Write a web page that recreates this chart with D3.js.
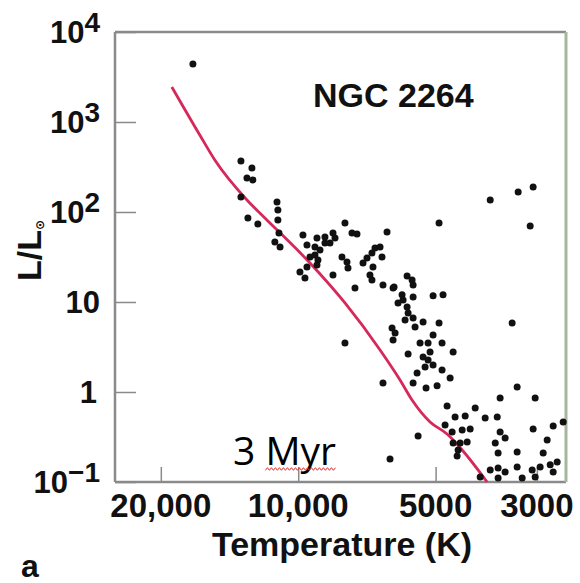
<!DOCTYPE html>
<html>
<head>
<meta charset="utf-8">
<script src="https://cdn.jsdelivr.net/npm/d3@7"></script>
<style>
  body { margin: 0; background: #fff; }
  text { font-family: "Liberation Sans", Arial, Helvetica, sans-serif; font-weight: bold; fill: #111; }
</style>
</head>
<body>
<div id="chart"></div>
<script>
// axis ticks
const tempTicks = [20000, 10000, 5000, 3000];
const tempTickLabels = ["20,000", "10,000", "5000", "3000"];
const lumTicks = [1e4, 1e3, 1e2, 10, 1, 0.1];
const lumTickBase = ["10", "10", "10", "10", "1", "10"];
const lumTickExp = ["4", "3", "2", "", "", "\u22121"];

// stars of NGC 2264 (temperature K, luminosity L/Lsun)
const starTemp = [17010, 13350, 12630, 12950, 12570, 13350, 12890, 12260, 11130, 11080,
  11080, 11020, 11250, 10960, 9764, 9098, 8738, 8391, 8306, 7899,
  7624, 7434, 6389, 9568, 9190, 8960, 8738, 8519, 9424, 9190,
  9052, 9913, 9568, 9665, 9098, 8391, 8019, 7819, 7780, 7510,
  7211, 7068, 6893, 6789, 6618, 6553, 6858, 6963, 6893, 6520,
  6197, 6229, 7899, 6520, 3796, 4914, 3103, 5774, 5630, 5601,
  6166, 5922, 5892, 6044, 5774, 5601, 5064, 4816, 5744, 5601,
  5833, 5546, 5326, 4914, 6134, 6197, 3399, 5064, 5408, 5194,
  4840, 5142, 5744, 4577, 5326, 5194, 5064, 5273, 4840, 5490,
  4647, 5601, 5247, 4963, 3314, 3611, 3026, 4719, 4095, 4532,
  4307, 3894, 3664, 4767, 4600, 4373, 4200, 3611, 3521, 3701,
  3057, 2763, 2627, 5462, 4577, 4418, 4264, 4463, 4486, 2848,
  3648, 3314, 2906, 6293, 3796, 3648, 3521, 3314, 3072, 2951,
  2805, 2708, 2763, 3993, 3648, 3231, 3026, 3297, 3057];
const starLum = [4410, 369, 308, 239, 227, 147, 86, 73.6, 129, 105,
  81.5, 58.4, 46.4, 40.8, 55.5, 51.4, 52.7, 58.4, 51.4, 75.5,
  58.4, 57, 60, 43, 40.8, 37.8, 45.2, 45.2, 31.6, 33.3,
  29.3, 21.5, 24.5, 18.5, 25.8, 20, 31.6, 27.8, 23.9, 14.3,
  27.1, 30.8, 35, 39.8, 40.8, 31.6, 24.5, 20, 17.6, 15.4,
  14.3, 5.14, 3.5, 1.26, 136, 75.5, 69.9, 19.5, 17.6, 15.4,
  14.7, 12, 10.5, 9.75, 8.8, 11.4, 11.7, 12, 7.55, 6.64,
  6.31, 5.27, 6, 5.85, 4.52, 3.78, 5.85, 4.3, 3.5, 3.5,
  3.5, 2.78, 2.64, 2.78, 2.45, 2.27, 2, 1.9, 1.76, 1.63,
  1.43, 1.26, 1.11, 1.17, 1.14, 0.858, 0.858, 0.699, 0.664, 0.528,
  0.541, 0.514, 0.528, 0.43, 0.359, 0.378, 0.388, 0.359, 0.308, 0.271,
  0.388, 0.419, 0.464, 0.324, 0.271, 0.271, 0.278, 0.227, 0.194, 0.293,
  0.21, 0.215, 0.21, 0.18, 0.136, 0.143, 0.129, 0.147, 0.136, 0.147,
  0.155, 0.167, 0.129, 0.114, 0.111, 0.111, 0.114, 167, 190];

// 3 Myr isochrone
const isoTemp = [18920, 16430, 15230, 12950, 11830, 9424, 7899, 6617, 5983, 5631, 5142, 4719, 4374, 3856];
const isoLum = [2450, 717, 378, 136, 85.8, 27.1, 9.75, 2.93, 1.36, 0.815, 0.464, 0.341, 0.227, 0.1];

let margin = { top: 32, left: 115, right: 14, bottom: 101 },
    width = 580 - margin.left - margin.right,
    height = 583 - margin.top - margin.bottom;

let svg = d3.select("#chart")
    .append("svg")
    .attr("width", 580)
    .attr("height", 583)
    .append("g")
    .attr("transform", "translate(" + margin.left + "," + margin.top + ")");

const x = d3.scaleLog().domain([25200, 2590]).range([0, width]);
const y = d3.scaleLog().domain([0.1, 1e4]).range([height, 0]);

// inward ticks
const xAxis = svg.append("g")
    .attr("transform", "translate(0," + height + ")")
    .call(d3.axisBottom(x).tickValues(tempTicks).tickSizeInner(-15).tickSizeOuter(0).tickFormat(""));
const yAxis = svg.append("g")
    .call(d3.axisLeft(y).tickValues(lumTicks).tickSizeInner(-21).tickSizeOuter(0).tickFormat(""));
[xAxis, yAxis].forEach(a => {
    a.select(".domain").remove();
    a.selectAll("line").attr("stroke", "#8a8a8a").attr("stroke-width", 1.5);
});

// frame
svg.append("line").attr("x1", 0).attr("x2", 0).attr("y1", 0).attr("y2", height)
    .attr("stroke", "#8a8a8a").attr("stroke-width", 2.5);
svg.append("line").attr("x1", 0).attr("x2", width).attr("y1", 0).attr("y2", 0)
    .attr("stroke", "#8a8a8a").attr("stroke-width", 2.5);
svg.append("line").attr("x1", 0).attr("x2", width).attr("y1", height).attr("y2", height)
    .attr("stroke", "#8a8a8a").attr("stroke-width", 2.5);
svg.append("line").attr("x1", width).attr("x2", width).attr("y1", 0).attr("y2", height)
    .attr("stroke", "#a7b59f").attr("stroke-width", 3);

// tick labels
svg.selectAll(".xlab")
    .data(tempTicks)
    .enter()
    .append("text")
    .attr("class", "xlab")
    .attr("x", d => x(d))
    .attr("y", height + 35)
    .attr("text-anchor", "middle")
    .style("font-size", "33px")
    .text((d, i) => tempTickLabels[i]);

const ylab = svg.selectAll(".ylab")
    .data(lumTicks)
    .enter()
    .append("text")
    .attr("class", "ylab")
    .attr("x", (d, i) => lumTickExp[i] === "" && lumTickBase[i] === "1" ? -18 : -15)
    .attr("y", d => y(d) + 11)
    .attr("text-anchor", "end")
    .style("font-size", "31px");
ylab.append("tspan").text((d, i) => lumTickBase[i]);
ylab.append("tspan")
    .attr("dy", -11)
    .style("font-size", "28px")
    .text((d, i) => lumTickExp[i]);

// axis titles
svg.append("text")
    .attr("x", 342 - margin.left)
    .attr("y", height + 74)
    .attr("text-anchor", "middle")
    .style("font-size", "34px")
    .text("Temperature (K)");

const yTitle = svg.append("text")
    .attr("transform", "translate(" + (41 - margin.left) + "," + (281 - margin.top) + ") rotate(-90)")
    .style("font-size", "34px");
yTitle.append("tspan").text("L/L");
yTitle.append("tspan").attr("dy", 3).style("font-size", "12px").style("font-family", "DejaVu Sans").text("\u2299");

// isochrone
const iso = isoTemp.map((t, i) => ({ t: t, l: isoLum[i] }));
svg.append("path")
    .datum(iso)
    .attr("fill", "none")
    .attr("stroke", "#d6285a")
    .attr("stroke-width", 2.8)
    .attr("d", d3.line().x(d => x(d.t)).y(d => y(d.l)).curve(d3.curveMonotoneX));

// stars
const stars = starTemp.map((t, i) => ({ t: t, l: starLum[i] }));
svg.selectAll("circle.star")
    .data(stars)
    .enter()
    .append("circle")
    .attr("class", "star")
    .attr("cx", d => x(d.t))
    .attr("cy", d => y(d.l))
    .attr("r", 3.5)
    .attr("fill", "#111");

// labels
svg.append("text")
    .attr("x", 313 - margin.left)
    .attr("y", 107 - margin.top)
    .style("font-size", "34px")
    .text("NGC 2264");

const ageText = svg.append("text")
    .attr("x", 233 - margin.left)
    .attr("y", 465 - margin.top)
    .style("font-family", "'Open Sans', 'Noto Sans', sans-serif")
    .style("font-weight", "normal")
    .style("font-size", "39px")
    .style("fill", "#000")
    .text("3 Myr");

// spell-check squiggle under "Myr"
const node = ageText.node();
const sx0 = node.getStartPositionOfChar(2).x;
const sx1 = node.getEndPositionOfChar(4).x;
const sy = 469 - margin.top;
const squiggle = d3.range(sx0, sx1, 2).map((sx, i) => [sx, sy + (i % 2 ? -1.3 : 1.3)]);
svg.append("path")
    .attr("fill", "none")
    .attr("stroke", "#e0302c")
    .attr("stroke-width", 1)
    .attr("d", d3.line()(squiggle));

svg.append("text")
    .attr("x", 21 - margin.left)
    .attr("y", 577 - margin.top)
    .style("font-size", "32px")
    .text("a");
</script>
</body>
</html>
